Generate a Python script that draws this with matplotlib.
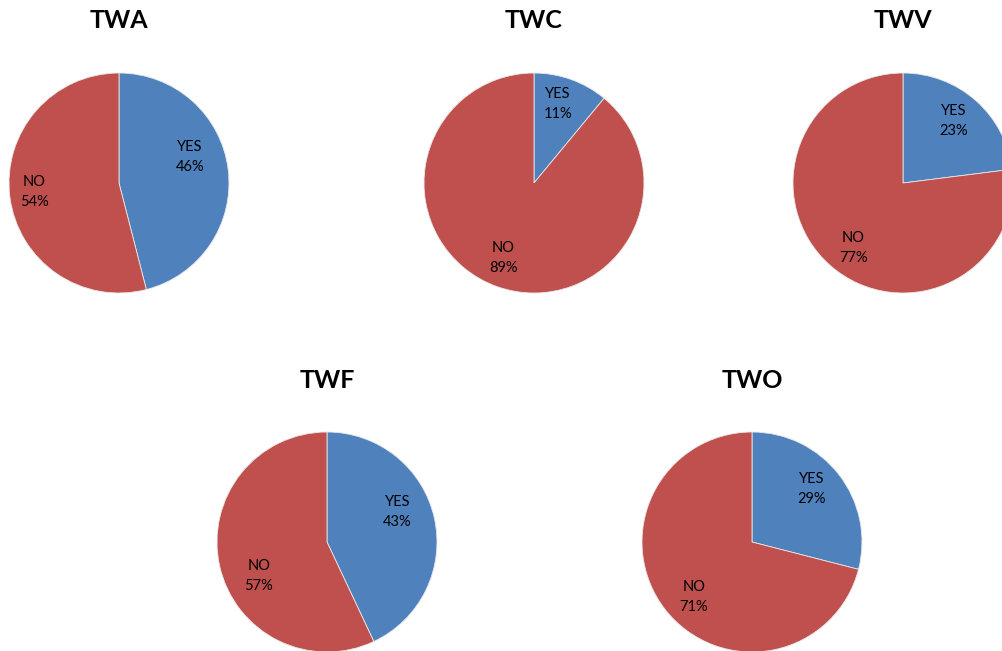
import matplotlib
matplotlib.use("Agg")
import matplotlib.pyplot as plt

titles = ["TWA", "TWC", "TWV", "TWF", "TWO"]
categories = ["YES", "NO"]
yes_pct = [46, 11, 23, 43, 29]
no_pct = [54, 89, 77, 57, 71]

colors = ["#4F81BD", "#C0504D"]
W, H = 1003, 651
fig = plt.figure(figsize=(W / 100, H / 100), dpi=100)

# layout (pixel centers), radius in px
centers = [(119, 183), (534, 183), (903, 183), (327, 542), (752, 542)]
title_y = [20, 20, 20, 380, 380]
R = 110
# label positions in radius units (YES, NO)
label_pos = [
    [(0.645, 0.236), (-0.77, -0.08)],
    [(0.22, 0.72), (-0.28, -0.68)],
    [(0.46, 0.56), (-0.45, -0.59)],
    [(0.64, 0.27), (-0.62, -0.31)],
    [(0.545, 0.48), (-0.53, -0.50)],
]

font = "Lato"
for i, t in enumerate(titles):
    cx, cy = centers[i]
    ax = fig.add_axes([(cx - R) / W, 1 - (cy + R) / H, 2 * R / W, 2 * R / H])
    vals = [yes_pct[i], no_pct[i]]
    wedges, _ = ax.pie(vals, colors=colors, startangle=90, counterclock=False,
                       radius=1.0, wedgeprops=dict(edgecolor="#E8E8E8", linewidth=0.6))
    for w in wedges:
        w.set_clip_on(False)
    ax.set_xlim(-1, 1)
    ax.set_ylim(-1, 1)
    ax.set_aspect("equal")
    ax.axis("off")
    for j, cat in enumerate(categories):
        lx, ly = label_pos[i][j]
        ax.text(lx, ly, f"{cat}\n{vals[j]}%", ha="center", va="center",
                fontsize=10.5, family=font, linespacing=1.55, color="black")
    fig.text(cx / W, 1 - title_y[i] / H, t, ha="center", va="center",
             fontsize=18, fontweight="bold", family=font)

fig.savefig("out.png", dpi=100)
